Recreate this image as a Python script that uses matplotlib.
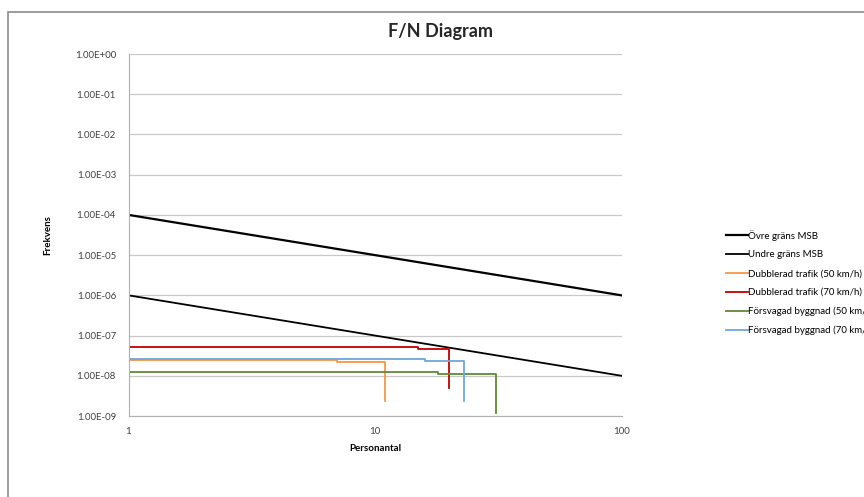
import numpy as np
import matplotlib.pyplot as plt
from matplotlib.ticker import FixedLocator, FuncFormatter, NullLocator
from matplotlib.patches import Rectangle

plt.rcParams['font.family'] = ['Lato', 'DejaVu Sans']

# criteria lines (MSB)
crit_n = [1, 100]
upper_f = [1e-4, 1e-6]
lower_f = [1e-6, 1e-8]

# F/N curves: persons, frequency
d50_n = [1, 7, 7, 11, 11]
d50_f = [2.4e-8, 2.4e-8, 2.2e-8, 2.2e-8, 2.4e-9]
d70_n = [1, 15, 15, 20, 20]
d70_f = [5.1e-8, 5.1e-8, 4.6e-8, 4.6e-8, 5.1e-9]
f50_n = [1, 18, 18, 31, 31]
f50_f = [1.24e-8, 1.24e-8, 1.1e-8, 1.1e-8, 1.2e-9]
f70_n = [1, 16, 16, 23, 23]
f70_f = [2.57e-8, 2.57e-8, 2.3e-8, 2.3e-8, 2.4e-9]

y_ticks = [10.0 ** -k for k in range(0, 10)]
x_ticks = [1, 10, 100]

fig = plt.figure(figsize=(8.64, 4.97), dpi=100)
ax = fig.add_axes([128.5 / 864, 1 - 416 / 497, 493 / 864, 362 / 497])

ax.plot(crit_n, upper_f, color='black', lw=1.6, label='Övre gräns MSB')
ax.plot(crit_n, lower_f, color='black', lw=1.3, label='Undre gräns MSB')
ax.plot(d50_n, d50_f, color='#F79646', lw=1.3, label='Dubblerad trafik (50 km/h)')
ax.plot(d70_n, d70_f, color='#C00000', lw=1.3, label='Dubblerad trafik (70 km/h)')
ax.plot(f50_n, f50_f, color='#5E8B36', lw=1.3, label='Försvagad byggnad (50 km/h)')
ax.plot(f70_n, f70_f, color='#71A6DB', lw=1.3, label='Försvagad byggnad (70 km/h)')

ax.set_xscale('log')
ax.set_yscale('log')
ax.set_xlim(1, 100)
ax.set_ylim(1e-9, 1)

ax.yaxis.set_major_locator(FixedLocator(y_ticks))
ax.yaxis.set_minor_locator(NullLocator())
ax.yaxis.set_major_formatter(FuncFormatter(lambda v, p: '%.2E' % v))
ax.xaxis.set_major_locator(FixedLocator(x_ticks))
ax.xaxis.set_minor_locator(NullLocator())
ax.xaxis.set_major_formatter(FuncFormatter(lambda v, p: '%d' % v))

ax.grid(axis='y', color='#c8c8c8', lw=0.9)
ax.set_axisbelow(True)
for s in ['top', 'right']:
    ax.spines[s].set_visible(False)
for s in ['left', 'bottom']:
    ax.spines[s].set_color('#b0b0b0')
ax.tick_params(length=0, labelsize=7, colors='#404040', pad=8)
ax.tick_params(axis='y', pad=9)

ax.set_xlabel('Personantal', fontsize=7, fontweight='bold', labelpad=6)
ax.set_ylabel('Frekvens', fontsize=7, fontweight='bold', labelpad=16)
fig.text(440 / 864, 1 - 32 / 497, 'F/N Diagram', ha='center', va='center',
         fontsize=13, fontweight='bold', color='#262626')

handles, labels = ax.get_legend_handles_labels()
fig.legend(handles, labels, loc='upper left', bbox_to_anchor=(722 / 864, 1 - 226 / 497),
           frameon=False, fontsize=7, handlelength=2.3, handletextpad=0.0,
           labelspacing=1.0, borderaxespad=0)

# outer chart border (cropped at right and bottom)
fig.patches.append(Rectangle((8 / 864, -0.1), 1.2, 1 - 12 / 497 + 0.1,
                             transform=fig.transFigure, fill=False,
                             edgecolor='#8c8c8c', lw=1.2))

fig.savefig('out.png', dpi=100)
